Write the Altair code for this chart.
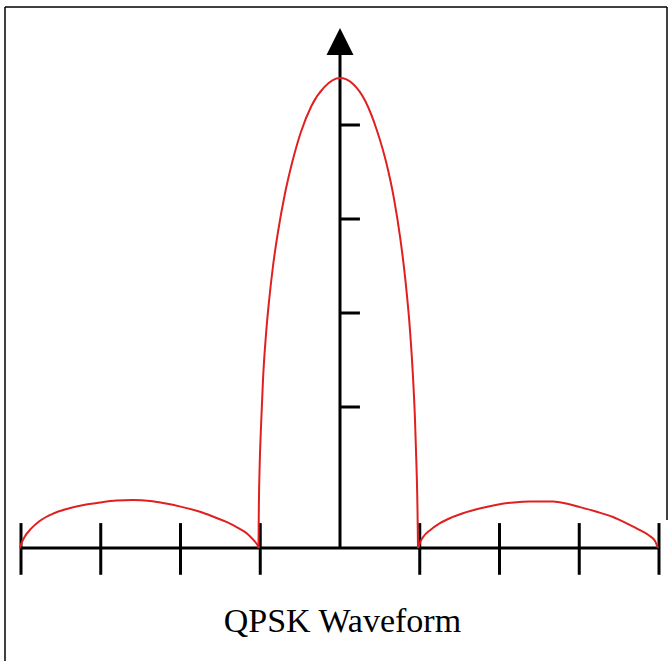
import altair as alt
import pandas as pd

# Spectrum lobes as (frequency, amplitude) pairs, amplitude normalised to the main peak
left_lobe_x = [-4.013, -3.990, -3.950, -3.880, -3.762, -3.600, -3.427, -3.200, -3.009, -2.800, -2.596,
               -2.382, -2.200, -2.000, -1.755, -1.580, -1.417, -1.280, -1.166, -1.080, -1.030, -1.016]
left_lobe_y = [0.0, 0.012, 0.025, 0.040, 0.058, 0.073, 0.083, 0.092, 0.097, 0.101, 0.102,
               0.100, 0.095, 0.088, 0.077, 0.066, 0.055, 0.043, 0.031, 0.016, 0.005, 0.0]

main_lobe_x = [-1.022, -1.018, -1.008, -0.990, -0.965, -0.930, -0.890, -0.840, -0.775, -0.695, -0.600,
               -0.490, -0.360, -0.200, 0.0, 0.160, 0.320, 0.460, 0.580, 0.675, 0.755, 0.820, 0.870,
               0.910, 0.940, 0.960, 0.972, 0.978]
main_lobe_y = [0.0, 0.080, 0.170, 0.260, 0.360, 0.450, 0.525, 0.600, 0.675, 0.750, 0.820,
               0.885, 0.940, 0.980, 1.0, 0.988, 0.950, 0.890, 0.820, 0.745, 0.660, 0.570, 0.480,
               0.380, 0.275, 0.170, 0.080, 0.0]

right_lobe_x = [0.982, 1.000, 1.045, 1.130, 1.254, 1.400, 1.542, 1.750, 1.969, 2.180, 2.382,
                2.671, 2.850, 3.009, 3.220, 3.423, 3.600, 3.762, 3.880, 3.950, 3.987]
right_lobe_y = [0.0, 0.010, 0.024, 0.038, 0.053, 0.065, 0.074, 0.084, 0.092, 0.097, 0.099,
                0.099, 0.094, 0.087, 0.077, 0.066, 0.052, 0.038, 0.026, 0.015, 0.0]

x_ticks = [-4, -3, -2, -1, 1, 2, 3, 4]
y_ticks = [0.3, 0.5, 0.7, 0.9]
title_text = "QPSK Waveform"

W, H = 672, 661
x_scale = alt.Scale(domain=[-4.2633, 4.1630], nice=False, zero=False)
y_scale = alt.Scale(domain=[-0.24043, 1.16596], nice=False, zero=False)

rows = []
for name, xs, ys in [("left", left_lobe_x, left_lobe_y),
                     ("main", main_lobe_x, main_lobe_y),
                     ("right", right_lobe_x, right_lobe_y)]:
    for i, (a, b) in enumerate(zip(xs, ys)):
        rows.append({"lobe": name, "i": i, "f": a, "amp": b})
curve_df = pd.DataFrame(rows)

X = lambda f: alt.X(f, scale=x_scale, axis=None)
Y = lambda f: alt.Y(f, scale=y_scale, axis=None)

# horizontal frequency axis
h_axis = alt.Chart(pd.DataFrame({"x": [-4], "x2": [4], "y": [0]})).mark_rule(
    color="black", strokeWidth=3).encode(x=X("x:Q"), x2="x2:Q", y=Y("y:Q"))

# vertical amplitude axis
v_axis = alt.Chart(pd.DataFrame({"x": [0], "y": [0], "y2": [1.05]})).mark_rule(
    color="black", strokeWidth=3).encode(x=X("x:Q"), y=Y("y:Q"), y2="y2:Q")

xt = alt.Chart(pd.DataFrame({"x": x_ticks, "y": [0.053] * len(x_ticks), "y2": [-0.057] * len(x_ticks)})).mark_rule(
    color="black", strokeWidth=3).encode(x=X("x:Q"), y=Y("y:Q"), y2="y2:Q")

yt = alt.Chart(pd.DataFrame({"y": y_ticks, "x": [0] * len(y_ticks), "x2": [0.25] * len(y_ticks)})).mark_rule(
    color="black", strokeWidth=3).encode(x=X("x:Q"), x2="x2:Q", y=Y("y:Q"))

arrow = alt.Chart(pd.DataFrame({"x": [0], "y": [1.0777]})).mark_point(
    shape="M0,-1L1,1L-1,1Z", size=729, filled=True, color="black", opacity=1).encode(x=X("x:Q"), y=Y("y:Q"))

curve = alt.Chart(curve_df).mark_line(color="#e02020", strokeWidth=2, interpolate="monotone").encode(
    x=X("f:Q"), y=Y("amp:Q"), detail="lobe:N", order="i:Q")

title = alt.Chart(pd.DataFrame({"x": [0.03], "y": [-0.1787], "t": [title_text]})).mark_text(
    font="Liberation Serif", fontSize=34, color="black", baseline="alphabetic", align="center").encode(
    x=X("x:Q"), y=Y("y:Q"), text="t:N")

# outer frame
frame_left = alt.Chart(pd.DataFrame({"a": [0]})).mark_rule(color="black", strokeWidth=1.5).encode(
    x=alt.value(5), y=alt.value(7), y2=alt.value(H))
frame_top = alt.Chart(pd.DataFrame({"a": [0]})).mark_rule(color="black", strokeWidth=1.5).encode(
    x=alt.value(5), x2=alt.value(667), y=alt.value(7))
frame_right = alt.Chart(pd.DataFrame({"a": [0]})).mark_rule(color="black", strokeWidth=1.5).encode(
    x=alt.value(667), y=alt.value(7), y2=alt.value(520))

chart = alt.layer(frame_left, frame_top, frame_right, h_axis, xt, v_axis, yt, arrow, curve, title).properties(
    width=W, height=H, padding=0, autosize="none", background="white"
).configure_view(stroke=None)

chart.save("out.html", embed_options={"renderer": "svg", "actions": False})
